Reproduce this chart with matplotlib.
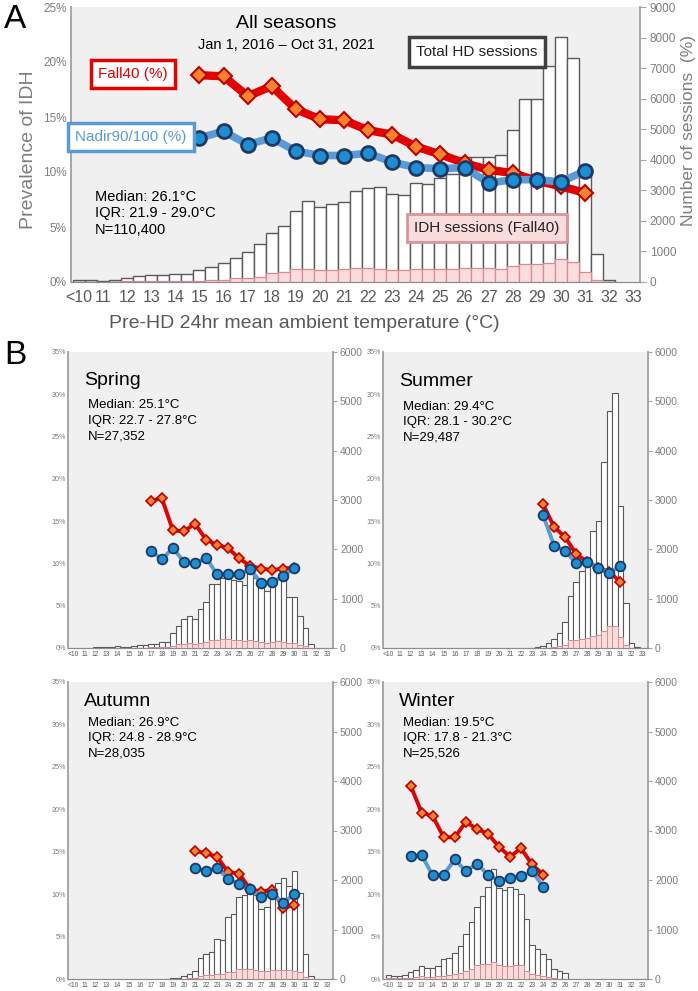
import matplotlib

matplotlib.use("Agg")
import matplotlib.pyplot as plt
import numpy as np
from matplotlib import font_manager
from matplotlib.ticker import FuncFormatter, MultipleLocator

# ---- data -----------------------------------------------------------------
TICK_TEMPS = list(range(10, 34))
TICK_LABELS = ["<10"] + [str(t) for t in range(11, 34)]

# all seasons: half-degree bins from 10 (<10) upward
ALL_BIN0 = 10.0
ALL_TOTAL = [65, 55, 22, 76, 130, 207, 240, 230, 250, 250,
             400, 480, 610, 775, 980, 1255, 1610, 1830, 2330, 2660,
             2440, 2550, 2625, 2985, 3080, 3095, 2875, 2855, 3245, 3200,
             3390, 3520, 4075, 4095, 4100, 4160, 4970, 6000, 6000, 7070,
             8020, 7340, 3540, 925, 60]
ALL_IDH = [8, 8, 3, 10, 18, 25, 30, 30, 30, 30,
           40, 60, 80, 120, 130, 170, 305, 340, 415, 435,
           380, 380, 415, 445, 445, 435, 390, 390, 415, 415,
           425, 425, 445, 457, 457, 425, 520, 590, 575, 620,
           760, 640, 315, 76, 0]
ALL_LINE_TEMPS = list(range(15, 32))
ALL_FALL40 = [18.8, 18.7, 16.9, 17.8, 15.7, 14.8, 14.7, 13.8, 13.4,
              12.3, 11.6, 10.8, 10.2, 9.9, 9.2, 8.7, 8.1]
ALL_NADIR = [13.1, 13.7, 12.5, 13.1, 11.9, 11.5, 11.5, 11.7, 10.9,
             10.4, 10.3, 10.4, 9.0, 9.3, 9.3, 9.1, 10.1]

SPRING_BIN0 = 12.0
SPRING_TOTAL = [15, 20, 25, 25, 40, 20, 30, 50, 60, 60,
                90, 80, 125, 125, 303, 441, 579, 655, 586, 786,
                924, 1304, 1304, 1419, 1466, 1372, 1351, 1284, 1601, 1419,
                1318, 1149, 1284, 1399, 1419, 1027, 1027, 655, 399, 81]
SPRING_IDH = [3, 3, 4, 4, 6, 3, 5, 8, 10, 10,
              15, 15, 20, 25, 50, 75, 90, 95, 90, 110,
              120, 165, 170, 175, 175, 165, 155, 150, 155, 140,
              125, 110, 120, 135, 130, 100, 100, 65, 35, 5]
SPRING_LINE_TEMPS = list(range(17, 31))
SPRING_FALL40 = [17.4, 17.7, 13.9, 13.8, 14.7, 12.8, 12.2, 11.8, 10.6,
                 9.7, 9.4, 9.2, 9.4, 9.5]
SPRING_NADIR = [11.5, 10.5, 11.8, 10.2, 10.0, 10.7, 8.7, 8.7, 8.7,
                9.3, 7.7, 7.8, 8.5, 9.5]

SUMMER_BIN0 = 23.0
SUMMER_TOTAL = [5, 15, 40, 100, 190, 300, 527, 1063, 1337, 1560,
                1714, 2366, 2571, 3771, 4800, 5177, 2880, 909, 103, 15]
SUMMER_IDH = [0, 0, 3, 9, 21, 34, 69, 163, 171, 180,
              197, 240, 257, 351, 446, 446, 231, 69, 9, 0]
SUMMER_LINE_TEMPS = list(range(24, 32))
SUMMER_FALL40 = [17.0, 14.3, 13.1, 11.1, 10.2, 9.5, 9.0, 7.8]
SUMMER_NADIR = [15.7, 12.1, 11.5, 10.0, 10.2, 9.5, 8.9, 9.7]

AUTUMN_BIN0 = 18.5
AUTUMN_TOTAL = [5, 14, 30, 60, 110, 155, 420, 510, 540, 805,
                795, 1260, 1320, 1650, 1700, 1760, 1690, 1420, 1460, 1740,
                1930, 2035, 1870, 2175, 1745, 515, 70, 10]
AUTUMN_IDH = [0, 2, 4, 8, 15, 30, 65, 80, 85, 100,
              110, 135, 150, 200, 200, 195, 180, 165, 160, 185,
              190, 180, 180, 170, 135, 35, 7, 0]
AUTUMN_LINE_TEMPS = list(range(21, 31))
AUTUMN_FALL40 = [15.1, 14.8, 14.4, 12.6, 12.4, 10.6, 10.3, 10.5, 8.4, 8.7]
AUTUMN_NADIR = [13.1, 12.7, 13.1, 11.8, 11.2, 10.6, 9.7, 10.0, 9.0, 10.0]

WINTER_BIN0 = 10.0
WINTER_TOTAL = [81, 61, 60, 81, 135, 182, 270, 216, 216, 263,
                398, 432, 533, 675, 904, 1161, 1464, 1680, 1849, 2220,
                1836, 1802, 1849, 1815, 1714, 1208, 688, 614, 499, 398,
                196, 162, 115]
WINTER_IDH = [17, 17, 17, 17, 26, 34, 51, 43, 43, 51,
              69, 77, 94, 129, 154, 206, 274, 300, 300, 351,
              283, 266, 266, 274, 274, 171, 94, 86, 60, 43,
              17, 9, 5]
WINTER_LINE_TEMPS = list(range(12, 25))
WINTER_FALL40 = [22.8, 19.6, 19.2, 16.7, 16.7, 18.5, 17.7, 17.1, 15.6,
                 14.4, 15.4, 13.5, 12.3]
WINTER_NADIR = [14.5, 14.6, 12.2, 12.3, 14.1, 12.7, 13.6, 12.3, 11.6,
                11.9, 12.1, 12.7, 10.9]

# ---- style ----------------------------------------------------------------
W, H = 698, 991
_names = {f.name for f in font_manager.fontManager.ttflist}
SANS = "Liberation Sans" if "Liberation Sans" in _names else "DejaVu Sans"
NARROW = "Liberation Sans Narrow" if "Liberation Sans Narrow" in _names else SANS
plt.rcParams["font.family"] = [SANS, "DejaVu Sans"]

RED = "#e60000"
RED_FACE = "#f7842b"
RED_EDGE = "#c00000"
BLUE = "#5b9bd5"
BLUE_FACE = "#1b8fd2"
BLUE_EDGE = "#1f3864"
PINK = "#f9dcdc"
PINK_EDGE = "#d98a94"
BG = "#f0f0f0"
GRAY = "#7f7f7f"


def rect(x0, y0, x1, y1):
    """Pixel box (left, top, right, bottom) -> figure fraction rect."""
    return [x0 / W, 1 - y1 / H, (x1 - x0) / W, (y1 - y0) / H]


def fxy(x, y):
    return x / W, 1 - y / H


def draw_panel(fig, box, bin0, total, idh, line_t, fall40, nadir,
               xlim, ymax_pct, ymax_n, big):
    axb = fig.add_axes(box)
    axb.set_facecolor(BG)
    xb = bin0 + 0.5 * np.arange(len(total))
    xi = bin0 + 0.5 * np.arange(len(idh))
    lw_bar = 1.0 if big else 0.8
    axb.bar(xb, total, width=0.5, color="white", edgecolor="#595959",
            linewidth=lw_bar, zorder=2)
    axb.bar(xi, idh, width=0.5, color=PINK, edgecolor=PINK_EDGE,
            linewidth=lw_bar * 0.9, zorder=3)
    axb.set_xlim(*xlim)
    axb.set_ylim(0, ymax_n)

    axl = axb.twinx()
    # bars use the right-hand count scale, lines the left-hand % scale
    axb.yaxis.tick_right()
    axb.yaxis.set_major_locator(MultipleLocator(1000))
    axl.yaxis.tick_left()
    axl.set_ylim(0, ymax_pct)
    axl.yaxis.set_major_locator(MultipleLocator(5))
    axl.yaxis.set_major_formatter(FuncFormatter(lambda v, p: f"{v:.0f}%"))

    if big:
        axl.plot(line_t, fall40, "-", color=RED, lw=6, zorder=4,
                 solid_capstyle="round")
        axl.plot(line_t, fall40, "D", ms=8, mfc=RED_FACE, mec=RED_EDGE,
                 mew=1.5, zorder=5)
        axl.plot(line_t, nadir, "-", color=BLUE, lw=5.5, zorder=6,
                 solid_capstyle="round")
        axl.plot(line_t, nadir, "o", ms=10, mfc=BLUE_FACE, mec=BLUE_EDGE,
                 mew=2, zorder=7)
    else:
        axl.plot(line_t, fall40, "-", color=RED, lw=2.8, zorder=4)
        axl.plot(line_t, fall40, "D", ms=5.5, mfc=RED_FACE, mec=RED_EDGE,
                 mew=1.2, zorder=5)
        axl.plot(line_t, nadir, "-", color=BLUE, lw=2.8, zorder=6)
        axl.plot(line_t, nadir, "o", ms=7, mfc=BLUE_FACE, mec=BLUE_EDGE,
                 mew=1.3, zorder=7)

    axb.set_xticks(TICK_TEMPS)
    axb.set_xticklabels(TICK_LABELS)
    for ax in (axb, axl):
        ax.spines["top"].set_visible(False)
        ax.spines["left"].set_color("#a6a6a6")
        ax.spines["right"].set_color("#a6a6a6")
        ax.spines["bottom"].set_color("#8c8c8c")
        ax.spines["left"].set_linewidth(1.2)
        ax.spines["right"].set_linewidth(1.2)

    fs_x = 11.5 if big else 4.8
    fs_l = 8.5 if big else 5.2
    fs_r = 8.5 if big else 7.5
    axb.tick_params(axis="x", length=0, labelsize=fs_x, labelcolor="#595959",
                    pad=6 if big else 2)
    axb.tick_params(axis="y", length=4 if big else 3, color="#a6a6a6",
                    labelsize=fs_r, labelcolor=GRAY, pad=3 if big else 2)
    axl.tick_params(axis="y", length=0, labelsize=fs_l, labelcolor=GRAY,
                    pad=3 if big else 1.5)
    return axb, axl


fig = plt.figure(figsize=(W / 100, H / 100), dpi=100)

# ---- panel A --------------------------------------------------------------
axb, axl = draw_panel(fig, rect(71, 7, 640, 282), ALL_BIN0, ALL_TOTAL, ALL_IDH,
                      ALL_LINE_TEMPS, ALL_FALL40, ALL_NADIR,
                      (9.67, 33.28), 25, 9000, True)

fig.text(*fxy(4, 20), "A", fontsize=24, va="center", ha="left")
fig.text(*fxy(286, 23), "All seasons", fontsize=14, ha="center", va="center")
fig.text(*fxy(286, 45), "Jan 1, 2016 \u2013 Oct 31, 2021", fontsize=10.5,
         ha="center", va="center", family=[NARROW, "DejaVu Sans"])
fig.text(*fxy(133, 74), "Fall40 (%)", fontsize=11, color=RED, ha="center",
         va="center", family=[NARROW, "DejaVu Sans"],
         bbox=dict(boxstyle="square,pad=0.45", fc="white", ec=RED, lw=2.5))
fig.text(*fxy(131, 137), "Nadir90/100 (%)", fontsize=11, color=BLUE, ha="center",
         va="center", family=[NARROW, "DejaVu Sans"],
         bbox=dict(boxstyle="square,pad=0.45", fc="white", ec=BLUE, lw=2.5))
fig.text(*fxy(477, 52), "Total HD sessions", fontsize=11, color="#222222",
         ha="center", va="center", family=[NARROW, "DejaVu Sans"],
         bbox=dict(boxstyle="square,pad=0.5", fc="white", ec="#404040", lw=2.5))
fig.text(*fxy(487, 228), "IDH sessions (Fall40)", fontsize=11, color="#222222",
         ha="center", va="center", family=[NARROW, "DejaVu Sans"],
         bbox=dict(boxstyle="square,pad=0.45", fc=PINK, ec="#d9959c", lw=2))
for i, line in enumerate(["Median: 26.1\u00b0C", "IQR: 21.9 - 29.0\u00b0C",
                          "N=110,400"]):
    fig.text(*fxy(95, 197 + i * 16.5), line, fontsize=10.5, ha="left",
             va="center", family=[NARROW, "DejaVu Sans"])

fig.text(*fxy(304, 323), "Pre-HD 24hr mean ambient temperature (\u00b0C)",
         fontsize=14, color="#595959", ha="center", va="center")
fig.text(*fxy(29, 150), "Prevalence of IDH", fontsize=14, color="#7f7f7f",
         ha="center", va="center", rotation=90)
fig.text(*fxy(689, 130), "Number of sessions  (%)", fontsize=12.5,
         color="#7f7f7f", ha="center", va="center", rotation=90)

# ---- panel B --------------------------------------------------------------
fig.text(*fxy(4, 355), "B", fontsize=24, va="center", ha="left")

seasons = [
    ("Spring", rect(68, 352, 333, 648), SPRING_BIN0, SPRING_TOTAL, SPRING_IDH,
     SPRING_LINE_TEMPS, SPRING_FALL40, SPRING_NADIR,
     ["Median: 25.1\u00b0C", "IQR: 22.7 - 27.8\u00b0C", "N=27,352"], 0.905, 0.82),
    ("Summer", rect(383, 352, 648, 648), SUMMER_BIN0, SUMMER_TOTAL, SUMMER_IDH,
     SUMMER_LINE_TEMPS, SUMMER_FALL40, SUMMER_NADIR,
     ["Median: 29.4\u00b0C", "IQR: 28.1 - 30.2\u00b0C", "N=29,487"], 0.9, 0.815),
    ("Autumn", rect(68, 682, 333, 979), AUTUMN_BIN0, AUTUMN_TOTAL, AUTUMN_IDH,
     AUTUMN_LINE_TEMPS, AUTUMN_FALL40, AUTUMN_NADIR,
     ["Median: 26.9\u00b0C", "IQR: 24.8 - 28.9\u00b0C", "N=28,035"], 0.936, 0.862),
    ("Winter", rect(383, 682, 648, 979), WINTER_BIN0, WINTER_TOTAL, WINTER_IDH,
     WINTER_LINE_TEMPS, WINTER_FALL40, WINTER_NADIR,
     ["Median: 19.5\u00b0C", "IQR: 17.8 - 21.3\u00b0C", "N=25,526"], 0.936, 0.862),
]

for name, box, b0, tot, idh, lt, f40, nad, stats, ty, sy in seasons:
    axb, axl = draw_panel(fig, box, b0, tot, idh, lt, f40, nad,
                          (9.5, 33.5), 35, 6000, False)
    axl.text(0.06, ty, name, transform=axl.transAxes, fontsize=14,
             ha="left", va="center")
    for i, line in enumerate(stats):
        axl.text(0.075, sy - i * 0.052, line, transform=axl.transAxes,
                 fontsize=9.5, ha="left", va="center")

fig.savefig("out.png", dpi=100)
